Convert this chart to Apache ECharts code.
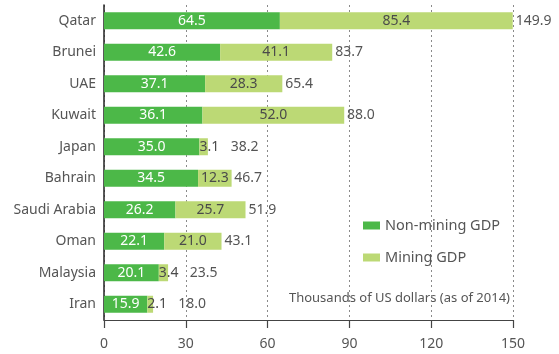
<!DOCTYPE html>
<html>
<head>
<meta charset="utf-8">
<script src="https://cdn.jsdelivr.net/npm/echarts@6/dist/echarts.min.js"></script>
<style>
html,body{margin:0;padding:0;background:#fff;}
#chart{width:559px;height:354px;}
</style>
</head>
<body>
<div id="chart"></div>
<script>
// GDP per capita split into non-mining and mining parts (thousands of US dollars, 2014)
const countries = ['Qatar', 'Brunei', 'UAE', 'Kuwait', 'Japan', 'Bahrain', 'Saudi Arabia', 'Oman', 'Malaysia', 'Iran'];
const nonMining = [64.5, 42.6, 37.1, 36.1, 35.0, 34.5, 26.2, 22.1, 20.1, 15.9];
const mining = [85.4, 41.1, 28.3, 52.0, 3.1, 12.3, 25.7, 21.0, 3.4, 2.1];
const totals = [149.9, 83.7, 65.4, 88.0, 38.2, 46.7, 51.9, 43.1, 23.5, 18.0];
const xTicks = [0, 30, 60, 90, 120, 150];

const FONT = '"Noto Sans", sans-serif';
const DARK = '#4cb848';
const LIGHT = '#bcd975';
const TEXT = '#555555';

const GRID_LEFT = 104, GRID_RIGHT = 46, WIDTH = 559;
const pxPerUnit = (WIDTH - GRID_LEFT - GRID_RIGHT) / (xTicks[xTicks.length - 1] - xTicks[0]);
const THIN = 5; // mining segments below this are too narrow to hold their label

const chart = echarts.init(document.getElementById('chart'));

// thin mining segments: label starts at the segment's left edge and spills right
const miningData = mining.map(v => v < THIN
  ? { value: v, label: { position: 'insideLeft', distance: 0 } }
  : v);

// total labels move past the spilled mining label when the segment is thin
const totalData = totals.map((v, i) => {
  const seg = mining[i] * pxPerUnit;
  const shift = mining[i] < THIN ? Math.max(0, 17 + 14 - seg - 3) : 0;
  return { value: v, label: { offset: [shift, 0] } };
});

chart.setOption({
  animation: false,
  grid: { left: GRID_LEFT, right: GRID_RIGHT, top: 5, bottom: 34, containLabel: false },
  legend: {
    orient: 'vertical',
    left: 358,
    top: 213,
    itemWidth: 17,
    itemHeight: 8,
    itemGap: 17,
    icon: 'rect',
    textStyle: { fontFamily: FONT, fontSize: 14.5, color: TEXT },
    data: ['Non-mining GDP', 'Mining GDP']
  },
  xAxis: {
    type: 'value',
    min: xTicks[0],
    max: xTicks[xTicks.length - 1],
    interval: 30,
    axisLine: { show: true, lineStyle: { color: '#444', width: 1.2 } },
    axisTick: { show: true, inside: false, length: 8, lineStyle: { color: '#444', width: 1.2 } },
    axisLabel: { fontFamily: FONT, fontSize: 14, color: TEXT, margin: 17 },
    splitLine: { show: true, lineStyle: { color: '#8a8a8a', type: [2, 3], width: 1 } }
  },
  yAxis: {
    type: 'category',
    data: countries,
    inverse: true,
    axisLine: { show: true, lineStyle: { color: '#222', width: 1.5 } },
    axisTick: { show: false },
    axisLabel: { fontFamily: FONT, fontSize: 14, color: TEXT, margin: 8 }
  },
  graphic: [{
    type: 'text',
    right: 49,
    top: 292,
    style: {
      text: 'Thousands of US dollars (as of 2014)',
      fontFamily: FONT,
      fontSize: 13,
      fill: TEXT
    }
  }],
  series: [
    {
      name: 'Non-mining GDP',
      type: 'bar',
      stack: 'gdp',
      barWidth: 17,
      data: nonMining,
      itemStyle: { color: DARK },
      label: {
        show: true,
        position: 'inside',
        color: '#ffffff',
        fontFamily: FONT,
        fontSize: 14,
        formatter: p => p.value.toFixed(1)
      }
    },
    {
      name: 'Mining GDP',
      type: 'bar',
      stack: 'gdp',
      barWidth: 17,
      data: miningData,
      itemStyle: { color: LIGHT },
      label: {
        show: true,
        position: 'inside',
        color: '#4a4a4a',
        fontFamily: FONT,
        fontSize: 14,
        formatter: p => p.value.toFixed(1)
      },
      labelLayout: { hideOverlap: false }
    },
    {
      name: 'Total',
      type: 'bar',
      barWidth: 17,
      barGap: '-100%',
      data: totalData,
      silent: true,
      z: 1,
      itemStyle: { color: 'rgba(0,0,0,0)' },
      label: {
        show: true,
        position: 'right',
        distance: 3,
        color: TEXT,
        fontFamily: FONT,
        fontSize: 14,
        formatter: p => p.value.toFixed(1)
      }
    }
  ]
});
</script>
</body>
</html>
